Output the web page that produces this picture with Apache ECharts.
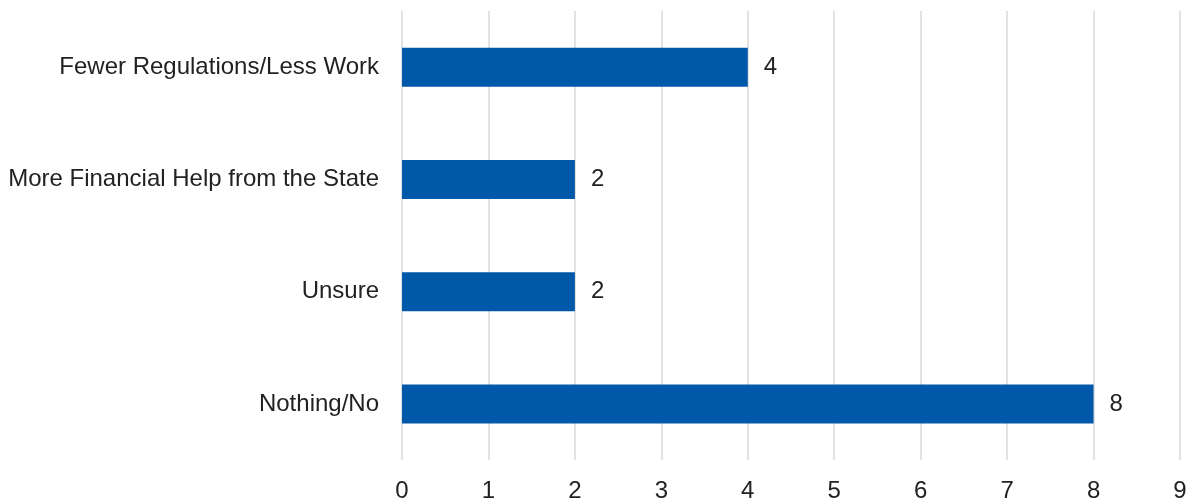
<!DOCTYPE html>
<html>
<head>
<meta charset="utf-8">
<script src="https://cdn.jsdelivr.net/npm/echarts@6/dist/echarts.min.js"></script>
<style>html,body{margin:0;padding:0;background:#fff}#c{width:1190px;height:504px}</style>
</head>
<body>
<div id="c"></div>
<script>
const categories = ['Nothing/No', 'Unsure', 'More Financial Help from the State', 'Fewer Regulations/Less Work'];
const values = [8, 2, 2, 4];
const xTicks = [0, 1, 2, 3, 4, 5, 6, 7, 8, 9];

const chart = echarts.init(document.getElementById('c'), null, {renderer: 'canvas'});
chart.setOption({
  animation: false,
  grid: {left: 402, right: 10, top: 11, bottom: 44, containLabel: false},
  xAxis: {
    type: 'value', min: xTicks[0], max: xTicks[xTicks.length - 1], interval: 1,
    axisLine: {show: false}, axisTick: {show: false},
    axisLabel: {fontFamily: 'Liberation Sans', fontSize: 24, color: '#222', margin: 19},
    splitLine: {show: true, lineStyle: {color: '#d9d9d9', width: 1.5}}
  },
  yAxis: {
    type: 'category', data: categories,
    axisLine: {show: false}, axisTick: {show: false},
    axisLabel: {fontFamily: 'Liberation Sans', fontSize: 24, color: '#222', margin: 23},
    splitLine: {show: false}
  },
  series: [{
    type: 'bar', data: values, barWidth: 39,
    itemStyle: {color: '#0058a9'},
    label: {show: true, position: 'right', distance: 16, fontFamily: 'Liberation Sans', fontSize: 24, color: '#222'}
  }]
});
</script>
</body>
</html>
